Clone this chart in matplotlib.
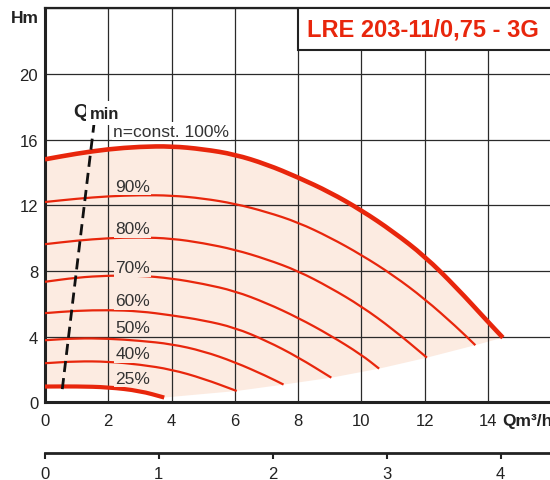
import matplotlib
matplotlib.use("Agg")
import matplotlib.pyplot as plt
from matplotlib.patches import Rectangle, PathPatch
from matplotlib.path import Path

plt.rcParams['font.family'] = ['Liberation Sans', 'DejaVu Sans']

RED = '#e8260c'
SHADE = '#fcebe1'
INK = '#222222'

# pump curves (Q in m3/h, H in m)
q100 = [0, 1, 2, 3, 4, 5, 6, 7, 8, 9, 10, 11, 12, 13, 14, 14.47]
h100 = [14.8, 15.15, 15.42, 15.57, 15.6, 15.42, 15.1, 14.5, 13.7, 12.8, 11.7, 10.4, 8.9, 7.0, 4.9, 3.94]
q90 = [0, 1, 2, 3, 4, 5, 6, 7, 8, 9, 10, 11, 12, 13, 13.6]
h90 = [12.2, 12.4, 12.55, 12.62, 12.6, 12.42, 12.1, 11.6, 10.96, 10.05, 8.98, 7.75, 6.3, 4.6, 3.48]
q80 = [0, 1, 2, 3, 4, 5, 6, 7, 8, 9, 10, 11, 12.07]
h80 = [9.63, 9.85, 10.0, 10.05, 9.98, 9.7, 9.3, 8.72, 8.0, 7.0, 5.85, 4.45, 2.72]
q70 = [0, 1, 2, 3, 4, 5, 6, 7, 8, 9, 10, 10.56]
h70 = [7.34, 7.6, 7.72, 7.72, 7.55, 7.22, 6.78, 6.05, 5.15, 4.1, 2.9, 2.05]
q60 = [0, 1, 2, 3, 4, 5, 6, 7, 8, 9.05]
h60 = [5.43, 5.58, 5.62, 5.55, 5.3, 5.0, 4.55, 3.75, 2.75, 1.5]
q50 = [0, 1, 2, 3, 4, 5, 6, 7, 7.54]
h50 = [3.78, 3.9, 3.88, 3.75, 3.55, 3.12, 2.45, 1.6, 1.08]
q40 = [0, 1, 2, 3, 4, 5, 6.06]
h40 = [2.38, 2.5, 2.48, 2.3, 2.0, 1.45, 0.69]
q25 = [0, 1, 2, 3, 3.77]
h25 = [0.96, 0.97, 0.92, 0.7, 0.29]

curves = [(q90, h90), (q80, h80), (q70, h70), (q60, h60), (q50, h50), (q40, h40)]

# percentage labels and where they sit
pct_labels = ['90%', '80%', '70%', '60%', '50%', '40%', '25%']
pct_y = [12.88, 10.3, 7.93, 5.91, 4.29, 2.68, 1.2]

# Qmin line end points
qmin_q = [1.56, 0.53]
qmin_h = [17.1, 0.49]

xticks = [0, 2, 4, 6, 8, 10, 12, 14, 16]
xlabels = ['0', '2', '4', '6', '8', '10', '12', '14', '']
yticks = [0, 4, 8, 12, 16, 20, 24]
ylabels = ['0', '4', '8', '12', '16', '20', '']
ls_ticks = [0, 1, 2, 3, 4]


def smooth_curve(ax, q, h, lw):
    '''
      draw the read points as a rounded path (quadratic bezier through midpoints)
    '''
    verts = [(q[0], h[0]), ((q[0] + q[1]) / 2, (h[0] + h[1]) / 2)]
    codes = [Path.MOVETO, Path.LINETO]
    for i in range(1, len(q) - 1):
        verts += [(q[i], h[i]), ((q[i] + q[i + 1]) / 2, (h[i] + h[i + 1]) / 2)]
        codes += [Path.CURVE3, Path.CURVE3]
    verts.append((q[-1], h[-1]))
    codes.append(Path.LINETO)
    patch = PathPatch(Path(verts, codes), fill=False, edgecolor=RED, lw=lw,
                      capstyle='butt', joinstyle='round', zorder=3)
    ax.add_patch(patch)


fig = plt.figure(figsize=(5.5, 4.81), dpi=100)
ax = fig.add_axes([44.9 / 550, 77.7 / 481, 16 * 31.65 / 550, 394 / 481])
ax.set_xlim(0, 16)
ax.set_ylim(0, 24)

# shaded operating area: 100% curve on top, curve ends + 25% curve below
ends_q = [q[-1] for q, h in curves]
ends_h = [h[-1] for q, h in curves]
poly_q = q100 + ends_q + q25[::-1]
poly_h = h100 + ends_h + h25[::-1]
ax.fill(poly_q, poly_h, color=SHADE, lw=0, zorder=0.2)

ax.set_axisbelow(True)
ax.set_xticks(xticks)
ax.set_xticklabels(xlabels)
ax.set_yticks(yticks)
ax.set_yticklabels(ylabels)
ax.grid(True, color='#2a2a2a', lw=0.9)
ax.tick_params(axis='x', length=0, pad=8, labelsize=12, colors=INK)
ax.tick_params(axis='y', length=0, pad=4.8, labelsize=12, colors=INK)
for side in ['left', 'bottom']:
    ax.spines[side].set_linewidth(2.2)
    ax.spines[side].set_color(INK)
ax.spines['top'].set_linewidth(1.6)
ax.spines['top'].set_color(INK)
ax.spines['right'].set_visible(False)

smooth_curve(ax, q100, h100, 3.3)
for q, h in curves:
    smooth_curve(ax, q, h, 1.6)
smooth_curve(ax, q25, h25, 3.0)

qline, = ax.plot(qmin_q, qmin_h, color='#111111', lw=2.0, zorder=3)
qline.set_dashes((4, 2.2))

for lab, y in zip(pct_labels, pct_y):
    ax.text(2.22, y, lab, fontsize=12.5, color='#333333', va='baseline', zorder=4,
            bbox=dict(facecolor=SHADE, edgecolor='none', pad=1))
ax.text(2.16, 16.24, 'n=const. 100%', fontsize=12.5, color='#333333', va='baseline', zorder=4,
        bbox=dict(facecolor='white', edgecolor='none', pad=1))

ax.text(0.9, 17.46, 'Q', fontsize=14, weight='bold', color=INK, va='baseline', zorder=4,
        bbox=dict(facecolor='white', edgecolor='none', pad=2))
ax.text(1.42, 17.34, 'min', fontsize=12, weight='bold', color=INK, va='baseline', zorder=4,
        bbox=dict(facecolor='white', edgecolor='none', pad=3))

# title box
ax.add_patch(Rectangle((8, 21.46), 9, 2.54, facecolor='white', edgecolor=INK, lw=1.5, zorder=3))
ax.text(11.94, 22.33, 'LRE 203-11/0,75 - 3G', fontsize=17, weight='bold', color=RED,
        ha='center', va='baseline', zorder=4)

# axis names
fig.text(10.7 / 550, 1 - 23.3 / 481, 'Hm', fontsize=12.5, weight='bold', color=INK, va='baseline')
ax.text(14.45, -1.38, 'Qm³/h', fontsize=12.5, weight='bold', color=INK, va='baseline', clip_on=False)

# second flow scale in l/s
sec = ax.secondary_xaxis(-0.1287, functions=(lambda q: q / 3.6, lambda q: q * 3.6))
sec.set_xticks(ls_ticks)
sec.set_xticklabels([str(t) for t in ls_ticks])
sec.tick_params(length=4.5, width=1.5, pad=5, labelsize=12, colors=INK)
sec.spines['bottom'].set_linewidth(2.0)
sec.spines['bottom'].set_color(INK)
ax.text(14.87, -10.64, 'Q/l/s', fontsize=12.5, weight='bold', color=INK, va='baseline', clip_on=False)

fig.savefig('out.png', dpi=100)
